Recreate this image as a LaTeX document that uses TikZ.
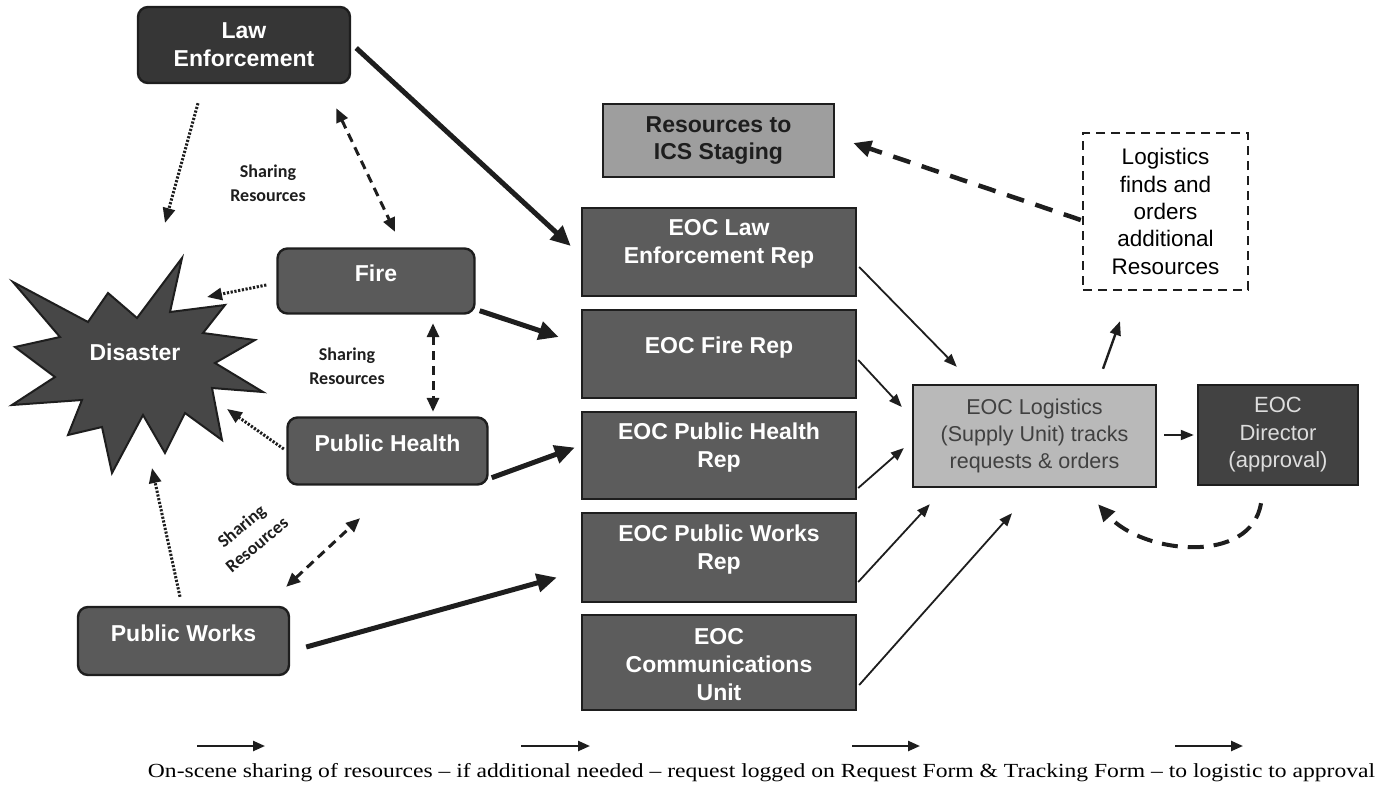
\documentclass[tikz,border=0pt]{standalone}
\usepackage{fontspec}
\usepackage{graphicx}
\setmainfont{Liberation Sans}
\newfontfamily\notefont{Carlito}
\newfontfamily\capfont{Liberation Serif}
\usetikzlibrary{arrows.meta}

\definecolor{ink}{HTML}{1E1E1E}
\definecolor{lawfill}{HTML}{363636}
\definecolor{unitfill}{HTML}{5A5A5A}
\definecolor{eocfill}{HTML}{5C5C5C}
\definecolor{stagefill}{HTML}{9E9E9E}
\definecolor{logfill}{HTML}{B9B9B9}
\definecolor{dirfill}{HTML}{424242}
\definecolor{starfill}{HTML}{474747}
\definecolor{dirtext}{HTML}{DDDDDD}

\begin{document}
\begin{tikzpicture}[x=1pt,y=-1pt,
  rbox/.style={draw=ink, line width=2.4pt, rounded corners=10pt, inner sep=0pt},
  sqbox/.style={draw=ink, line width=2.4pt, inner sep=0pt},
  wtxt/.style={text=white, font=\fontsize{23}{28}\selectfont\bfseries, align=center, inner sep=0pt},
  note/.style={text=ink, font=\notefont\fontsize{18}{24}\selectfont\bfseries, align=center, inner sep=0pt},
  heavy/.style={draw=ink, line width=5pt, -{Triangle[length=20pt,width=18pt]}},
  slim/.style={draw=ink, line width=1.8pt, -{Triangle[length=13pt,width=10pt]}},
  dotarrow/.style={draw=ink, line width=3pt, dash pattern=on 2.2pt off 1.6pt, -{Triangle[length=15pt,width=12pt]}},
  shared/.style={draw=ink, line width=3pt, dash pattern=on 9pt off 6pt,
    {Triangle[length=14pt,width=12pt]}-{Triangle[length=14pt,width=12pt]}},
  bigdash/.style={draw=ink, line width=4.5pt, dash pattern=on 18pt off 12pt, -{Triangle[length=18pt,width=16pt]}},
  keyarrow/.style={draw=ink, line width=2.4pt, -{Triangle[length=12pt,width=10pt]}}
]
\useasboundingbox (0,0) rectangle (1381,790);

% ---------- on-scene agencies ----------
\node[rbox, fill=lawfill, minimum width=212pt, minimum height=76pt] (law) at (244,45) {};
\node[wtxt] (law-t) at (law.center) {Law\\Enforcement};

\node[rbox, fill=unitfill, minimum width=197pt, minimum height=65pt] (fire) at (376,281) {};
\node[wtxt] (fire-t) at ([yshift=8pt]fire.center) {Fire};

\node[rbox, fill=unitfill, minimum width=200pt, minimum height=67pt] (ph) at (387.5,451) {};
\node[wtxt] (ph-t) at ([yshift=8pt]ph.center) {Public Health};

\node[rbox, fill=unitfill, minimum width=211pt, minimum height=68pt] (pw) at (183.5,641) {};
\node[wtxt] (pw-t) at ([yshift=8pt]pw.center) {Public Works};

% ---------- disaster burst ----------
\draw[draw=ink, line width=2pt, fill=starfill, line join=miter]
  (13,282) -- (88,322) -- (108,293) -- (137,318) -- (182,258) -- (170,312)
  -- (225,305) -- (203,333) -- (255,340) -- (215,363) -- (263,392) -- (212,388)
  -- (222,440) -- (185,413) -- (165,453) -- (143,415) -- (112,473) -- (102,427)
  -- (68,435) -- (82,400) -- (12,405) -- (55,377) -- (15,347) -- (60,337) -- cycle;
\node[wtxt] (dis) at (135,352) {Disaster};

% ---------- EOC column ----------
\node[sqbox, fill=stagefill, minimum width=231pt, minimum height=73pt,
      font=\fontsize{23}{27}\selectfont\bfseries, text=ink, align=center] (res) at (718.5,140.5)
      {Resources to\\ICS Staging};

\node[sqbox, fill=eocfill, minimum width=274pt, minimum height=88pt] (eocl) at (719,252) {};
\node[wtxt] (eocl-t) at ([yshift=8pt]eocl.center) {EOC Law\\Enforcement Rep};

\node[sqbox, fill=eocfill, minimum width=274pt, minimum height=88pt] (eocf) at (719,354) {};
\node[wtxt] (eocf-t) at ([yshift=6pt]eocf.center) {EOC Fire Rep};

\node[sqbox, fill=eocfill, minimum width=274pt, minimum height=87pt] (eocph) at (719,455.5) {};
\node[wtxt] (eocph-t) at ([yshift=8pt]eocph.center) {EOC Public Health\\Rep};

\node[sqbox, fill=eocfill, minimum width=274pt, minimum height=89pt] (eocpw) at (719,557.5) {};
\node[wtxt] (eocpw-t) at ([yshift=8pt]eocpw.center) {EOC Public Works\\Rep};

\node[sqbox, fill=eocfill, minimum width=274pt, minimum height=95pt] (eocc) at (719,662.5) {};
\node[wtxt] (eocc-t) at ([yshift=-2pt]eocc.center) {EOC\\Communications\\Unit};

% ---------- logistics and approval ----------
\node[sqbox, fill=logfill, minimum width=243pt, minimum height=102pt,
      font=\fontsize{21.5}{26.7}\selectfont, text=ink!85, align=center] (logi) at (1034.5,436)
      {EOC Logistics\\(Supply Unit) tracks\\requests \& orders};

\node[sqbox, fill=dirfill, minimum width=160pt, minimum height=100pt,
      font=\fontsize{22}{27.5}\selectfont, text=dirtext, align=center] (dir) at (1278,435)
      {EOC\\Director\\(approval)};

\node[draw=ink, line width=2.4pt, dash pattern=on 9pt off 6pt, inner sep=0pt,
      minimum width=165pt, minimum height=157pt,
      font=\fontsize{22.5}{27.3}\selectfont, text=black, align=center] (find) at (1165.5,211.5)
      {Logistics\\finds and\\orders\\additional\\Resources};

% ---------- labels ----------
\node[note] (share1) at (268,183) {Sharing\\Resources};
\node[note] (share2) at (347,366) {Sharing\\Resources};
\node[note, rotate=40] (share3) at (249,535) {Sharing\\Resources};

% ---------- agency to EOC rep ----------
\draw[heavy] ([shift={(5,3)}]law.east) -- ([shift={(-10,-6)}]eocl.west);
\draw[heavy] ([shift={(4,-4)}]fire.south east) -- ([shift={(-22,-17)}]eocf.west);
\draw[heavy] ([shift={(3,-8)}]ph.south east) -- ([shift={(-6,-8)}]eocph.west);
\draw[heavy] ([shift={(16,6)}]pw.east) -- ([shift={(-24,20)}]eocpw.west);

% ---------- EOC reps to logistics ----------
\draw[slim] ([shift={(2,15)}]eocl.east) -- ([shift={(45,-17)}]logi.north west);
\draw[slim] ([shift={(1,6)}]eocf.east) -- ([shift={(-10,-29)}]logi.west);
\draw[slim] ([shift={(1,32.5)}]eocph.east) -- ([shift={(-8,12)}]logi.west);
\draw[slim] ([shift={(1,24.5)}]eocpw.east) -- ([shift={(18,16)}]logi.south west);
\draw[slim] ([shift={(2,22.5)}]eocc.east) -- ([shift={(-22.5,25)}]logi.south);

\draw[slim] ([shift={(7,-1)}]logi.east) -- ([shift={(-3,0)}]dir.west);
\draw[draw=ink, line width=2.4pt, -{Triangle[length=14pt,width=11pt]}]
  ([shift={(68.5,-15)}]logi.north) -- ([shift={(-45.5,30)}]find.south);
\draw[bigdash] ([shift={(-1,8.5)}]find.west) -- ([shift={(18,2.5)}]res.east);
\draw[draw=ink, line width=4pt, dash pattern=on 16pt off 10pt, -{Triangle[length=17pt,width=15pt]}]
  ([shift={(-17,17)}]dir.south) .. controls +(-10,62) and +(45,50) .. ([shift={(63.5,16)}]logi.south);

% ---------- on-scene flows ----------
\draw[dotarrow] ([shift={(-46,19)}]law.south) -- ([shift={(30,-129)}]dis.center);
\draw[shared] ([shift={(-15,24)}]law.south east) -- ([shift={(19,-15.5)}]fire.north);
\draw[dotarrow] ([shift={(-10,4)}]fire.west) -- ([shift={(72,-55)}]dis.center);
\draw[shared] ([shift={(57,8.5)}]fire.south) -- ([shift={(45.5,-4.5)}]ph.north);
\draw[dotarrow] ([shift={(-2.5,-2)}]ph.west) -- ([shift={(92,57)}]dis.center);
\draw[dotarrow] ([shift={(-3.5,-9)}]pw.north) -- ([shift={(17,116)}]dis.center);
\draw[shared] ([shift={(-4,-19)}]pw.north east) -- ([shift={(-27.5,32.5)}]ph.south);

% ---------- process key ----------
\coordinate (k1a) at (197,746); \coordinate (k1b) at (265,746);
\coordinate (k2a) at (521,746); \coordinate (k2b) at (590,746);
\coordinate (k3a) at (852,746); \coordinate (k3b) at (920,746);
\coordinate (k4a) at (1175,746); \coordinate (k4b) at (1243,746);
\draw[keyarrow] (k1a) -- (k1b);
\draw[keyarrow] (k2a) -- (k2b);
\draw[keyarrow] (k3a) -- (k3b);
\draw[keyarrow] (k4a) -- (k4b);
\node[inner sep=0pt, text=black] (caption) at (761.5,773)
  {\resizebox{1227pt}{\height}{\capfont\fontsize{20}{22}\selectfont On-scene sharing of resources – if additional needed – request logged on Request Form \& Tracking Form – to logistic to approval}};
\end{tikzpicture}
\end{document}
